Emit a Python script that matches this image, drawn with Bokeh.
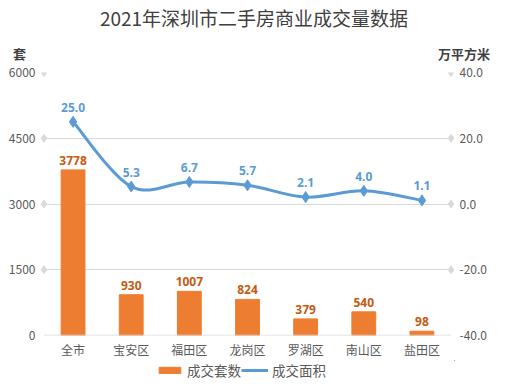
from bokeh.plotting import figure
from bokeh.layouts import column
from bokeh.models import (Range1d, LinearAxis, FixedTicker, PrintfTickFormatter,
                          Legend, LegendItem, ColumnDataSource, LabelSet, Div)
from bokeh.core.properties import value
from bokeh.embed import file_html
from bokeh.resources import INLINE

categories = ["全市", "宝安区", "福田区", "龙岗区", "罗湖区", "南山区", "盐田区"]
units_sold = [3778, 930, 1007, 824, 379, 540, 98]
area_sold = [25.0, 5.3, 6.7, 5.7, 2.1, 4.0, 1.1]
left_ticks = [0, 1500, 3000, 4500, 6000]
right_ticks = [-40, -20, 0, 20, 40]
title_text = "2021年深圳市二手房商业成交量数据"
left_unit = "套"
right_unit = "万平方米"
series_names = ["成交套数", "成交面积"]

FONT = "Noto Sans CJK SC"
NUMFONT = "Noto Sans"
ORANGE = "#ED7D31"
BLUE = "#5B9BD5"
GRID = "#D9D9D9"
TXT = "#595959"
DARK = "#404040"
W = 508

xs = list(range(len(categories)))

# ---------- header (title + axis units) ----------
header_html = (
    f'<div style="position:relative;width:{W}px;height:62px;font-family:\'{FONT}\';color:{DARK};">'
    f'<div style="position:absolute;left:0;top:6px;width:{W}px;text-align:center;'
    f'font-size:19px;line-height:24px;white-space:nowrap;">{title_text}</div>'
    f'<div style="position:absolute;left:13px;top:45px;font-size:13px;font-weight:bold;'
    f'line-height:17px;white-space:nowrap;">{left_unit}</div>'
    f'<div style="position:absolute;left:438px;top:45px;font-size:13px;font-weight:bold;'
    f'line-height:17px;white-space:nowrap;">{right_unit}</div>'
    '</div>'
)
top = Div(text=header_html, width=W, height=62, margin=(0, 0, 0, 0))

# ---------- main chart ----------
p = figure(width=W, height=298, x_range=Range1d(-0.56, len(categories) - 1 + 0.56),
           y_range=Range1d(left_ticks[0], left_ticks[-1]),
           output_backend="svg", toolbar_location=None,
           min_border_left=40, min_border_right=54, min_border_top=10, min_border_bottom=25)
p.outline_line_color = None
p.extra_y_ranges = {"area": Range1d(right_ticks[0], right_ticks[-1])}

p.xaxis.ticker = FixedTicker(ticks=xs)
p.xaxis.major_label_overrides = {i: c for i, c in enumerate(categories)}
p.xaxis.major_tick_line_color = None
p.xaxis.major_tick_out = 0
p.xaxis.minor_tick_line_color = None
p.xaxis.axis_line_color = None
p.xaxis.major_label_text_font = FONT
p.xaxis.major_label_text_font_size = "12px"
p.xaxis.major_label_text_color = TXT
p.xaxis.major_label_standoff = 5
p.xgrid.visible = False

p.yaxis.ticker = FixedTicker(ticks=left_ticks)
p.yaxis.axis_line_color = None
p.yaxis.major_tick_line_color = None
p.yaxis.major_tick_out = 0
p.yaxis.minor_tick_line_color = None
p.yaxis.major_label_text_font = FONT
p.yaxis.major_label_text_font_size = "12px"
p.yaxis.major_label_text_color = TXT
p.yaxis.major_label_standoff = 5
p.ygrid.ticker = FixedTicker(ticks=left_ticks)
p.ygrid.grid_line_color = GRID

ra = LinearAxis(y_range_name="area", ticker=FixedTicker(ticks=right_ticks),
                formatter=PrintfTickFormatter(format="%.1f"))
ra.axis_line_color = None
ra.major_tick_line_color = None
ra.major_tick_out = 0
ra.minor_tick_line_color = None
ra.major_label_text_font = FONT
ra.major_label_text_font_size = "12px"
ra.major_label_text_color = TXT
ra.major_label_standoff = 5
p.add_layout(ra, "right")

# gridline end markers
p.scatter(x=[xs[0] - 0.5] * (len(left_ticks) - 1), y=left_ticks[1:], marker="diamond",
          size=8, color=GRID)
p.scatter(x=[xs[-1] + 0.5] * (len(right_ticks) - 1), y=right_ticks[1:], marker="diamond",
          size=8, color=GRID, y_range_name="area")

# bars
bars = p.vbar(x=xs, top=units_sold, width=0.41, color=ORANGE)

# smoothed line (Catmull-Rom cubic segments through the data points)
n = len(xs)
seg = dict(x0=[], y0=[], x1=[], y1=[], cx0=[], cy0=[], cx1=[], cy1=[])
for i in range(n - 1):
    a, b = max(i - 1, 0), min(i + 2, n - 1)
    seg["x0"].append(xs[i]); seg["y0"].append(area_sold[i])
    seg["x1"].append(xs[i + 1]); seg["y1"].append(area_sold[i + 1])
    seg["cx0"].append(xs[i] + (xs[i + 1] - xs[a]) / 6)
    seg["cy0"].append(area_sold[i] + (area_sold[i + 1] - area_sold[a]) / 6)
    seg["cx1"].append(xs[i + 1] - (xs[b] - xs[i]) / 6)
    seg["cy1"].append(area_sold[i + 1] - (area_sold[b] - area_sold[i]) / 6)
p.bezier(source=ColumnDataSource(seg), x0="x0", y0="y0", x1="x1", y1="y1",
         cx0="cx0", cy0="cy0", cx1="cx1", cy1="cy1",
         line_color=BLUE, line_width=3, y_range_name="area")
p.scatter(x=xs, y=area_sold, marker="diamond", size=11, color=BLUE, y_range_name="area")

# category axis line spanning the category band
p.segment(x0=[xs[0] - 0.5], x1=[xs[-1] + 0.5], y0=[left_ticks[0]], y1=[left_ticks[0]],
          line_color=GRID, line_width=1.5)

# data labels
bsrc = ColumnDataSource(dict(x=xs, y=units_sold, t=[str(v) for v in units_sold]))
p.add_layout(LabelSet(source=bsrc, x="x", y="y", text="t", text_align="center",
                      text_baseline="bottom", y_offset=5, text_font=value(NUMFONT),
                      text_font_size="12px", text_font_style="bold", text_color="#C55A11"))
lsrc = ColumnDataSource(dict(x=xs, y=area_sold, t=["%.1f" % v for v in area_sold]))
p.add_layout(LabelSet(source=lsrc, x="x", y="y", text="t", text_align="center",
                      text_baseline="bottom", y_offset=10, text_font=value(NUMFONT),
                      text_font_size="12px", text_font_style="bold", text_color=BLUE,
                      y_range_name="area"))

# ---------- legend strip (proxy renderers kept outside the visible range) ----------
bot = figure(width=W, height=26, x_range=Range1d(-3, -2), y_range=Range1d(-3, -2),
             output_backend="svg", toolbar_location=None, x_axis_type=None, y_axis_type=None,
             min_border_left=0, min_border_right=0, min_border_top=0, min_border_bottom=0)
bot.outline_line_color = None
lb = bot.vbar(x=xs, top=units_sold, width=0.41, color=ORANGE)
ll = bot.line(x=xs, y=area_sold, line_color=BLUE, line_width=3)
lp = bot.scatter(x=xs, y=area_sold, marker="diamond", size=10, color=BLUE)
legend = Legend(items=[LegendItem(label=series_names[0], renderers=[lb]),
                       LegendItem(label=series_names[1], renderers=[ll, lp])],
                orientation="horizontal", location=(116, 6),
                border_line_color=None, background_fill_alpha=0,
                label_text_font=FONT, label_text_font_size="13.5px", label_text_color=TXT,
                glyph_width=27, glyph_height=8, label_height=14, spacing=0, padding=0,
                margin=0, label_standoff=4)
bot.add_layout(legend, "center")

layout = column(top, p, bot, spacing=0)
open("out.html", "w").write(file_html(layout, INLINE))
